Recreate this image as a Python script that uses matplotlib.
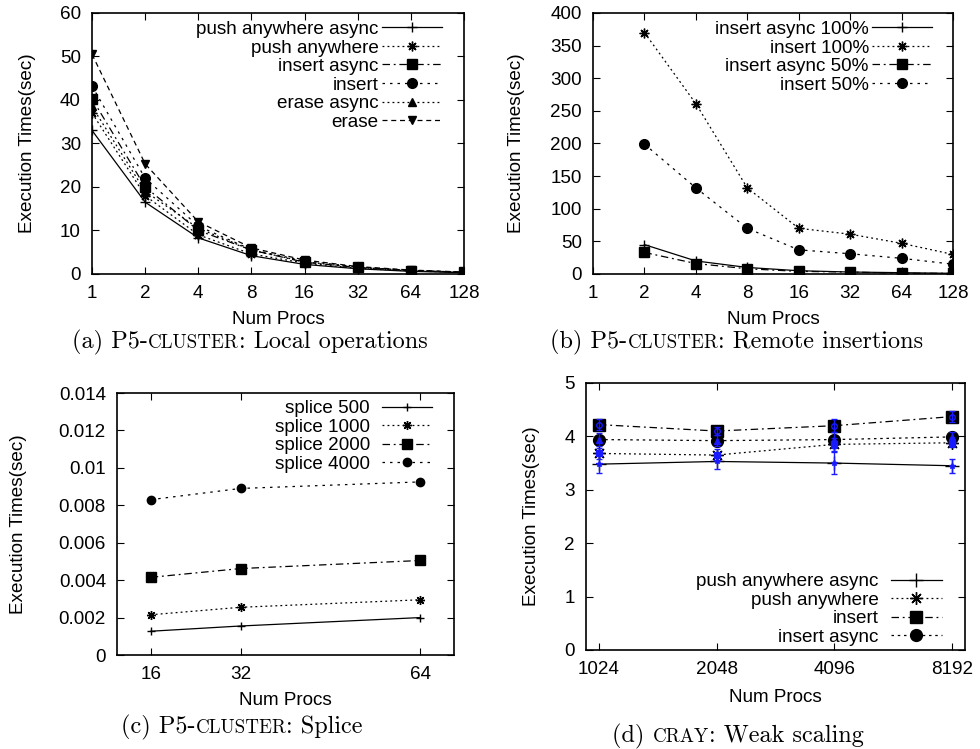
import matplotlib
matplotlib.use("Agg")
import matplotlib.pyplot as plt

plt.rcParams["font.family"] = ["Liberation Sans", "DejaVu Sans"]
plt.rcParams["font.size"] = 13.6

# ---- data -----------------------------------------------------------------
procs_a = [1, 2, 4, 8, 16, 32, 64, 128]
push_anywhere_async_a = [33.0, 16.5, 8.3, 4.2, 2.2, 1.2, 0.6, 0.3]
push_anywhere_a = [37.0, 18.0, 9.0, 4.6, 2.5, 1.3, 0.7, 0.35]
insert_async_a = [40.3, 20.0, 10.0, 5.5, 2.7, 1.5, 0.8, 0.4]
insert_a = [43.2, 22.0, 11.0, 5.6, 3.0, 1.6, 0.8, 0.4]
erase_async_a = [38.5, 19.0, 10.5, 5.5, 2.8, 1.5, 0.8, 0.4]
erase_a = [50.5, 25.3, 12.0, 6.0, 3.2, 1.7, 0.9, 0.45]

procs_b = [2, 4, 8, 16, 32, 64, 128]
insert_async_100 = [45, 20, 10, 5, 3, 2, 1]
insert_100 = [370, 261, 132, 70, 61, 47, 30]
insert_async_50 = [33, 16, 8, 4, 3, 1, 1]
insert_50 = [199, 132, 70, 37, 31, 24, 15]

procs_c = [16, 32, 64]
splice_500 = [0.00127, 0.00155, 0.00200]
splice_1000 = [0.00215, 0.00255, 0.00295]
splice_2000 = [0.00415, 0.00462, 0.00505]
splice_4000 = [0.00830, 0.00890, 0.00925]

procs_d = [1024, 2048, 4096, 8192]
push_anywhere_async_d = [3.48, 3.53, 3.50, 3.45]
push_anywhere_d = [3.68, 3.65, 3.85, 3.88]
insert_d = [4.22, 4.10, 4.20, 4.37]
insert_async_d = [3.94, 3.92, 3.94, 3.99]
# blue overlay (error bars of repeated runs)
err_push_async_d = [0.17, 0.15, 0.20, 0.13]
err_push_d = [0.10, 0.12, 0.12, 0.08]
err_insert_d = [0.10, 0.08, 0.12, 0.10]
err_insert_async_d = [0.12, 0.10, 0.15, 0.10]

# ---- styles ---------------------------------------------------------------
ASTER = (8, 2, 0)
DOT = (0, (1.5, 2.5))
DASHDOT = (0, (6, 3, 1.5, 3))
FINEDOT = (0, (2, 4))
DASH = (0, (4, 3))
FS = 13.6


def style_axes(ax, ylab_x, xlab_y):
    ax.tick_params(direction="in", top=True, right=True, length=5, width=0.8,
                   labelsize=FS, pad=8)
    for s in ax.spines.values():
        s.set_linewidth(1.2)
    ax.set_xlabel("Num Procs", fontsize=FS)
    ax.set_ylabel("Execution Times(sec)", fontsize=FS)
    ax.yaxis.set_label_coords(ylab_x, 0.5)
    ax.xaxis.set_label_coords(0.5, xlab_y)


def legend(ax, anchor, loc="upper right", hl=3.2, pad=0.15):
    ax.legend(loc=loc, bbox_to_anchor=anchor, frameon=False, markerfirst=False,
              handlelength=hl, handletextpad=pad, labelspacing=0.07,
              borderaxespad=0, borderpad=0, fontsize=FS)


def line(ax, x, y, ls, mk, label, ms=7):
    ax.plot(x, y, color="black", linestyle=ls, linewidth=0.9, marker=mk,
            markersize=ms, markeredgewidth=1.0, label=label)


def log2_ticks(ax, ticks):
    ax.set_xscale("log", base=2)
    ax.set_xticks(ticks)
    ax.set_xticklabels([str(p) for p in ticks])
    ax.minorticks_off()


fig = plt.figure(figsize=(9.8, 7.49), dpi=100)

# (a)
ax = fig.add_axes([0.0939, 0.6342, 0.3796, 0.3485])
line(ax, procs_a, push_anywhere_async_a, "-", "+", "push anywhere async")
line(ax, procs_a, push_anywhere_a, DOT, ASTER, "push anywhere")
line(ax, procs_a, insert_async_a, DASHDOT, "s", "insert async")
line(ax, procs_a, insert_a, FINEDOT, "o", "insert")
line(ax, procs_a, erase_async_a, DOT, "^", "erase async", ms=6)
line(ax, procs_a, erase_a, DASH, "v", "erase", ms=6)
log2_ticks(ax, procs_a)
ax.set_xlim(1, 128)
ax.set_ylim(0, 60)
ax.set_yticks(range(0, 61, 10))
style_axes(ax, -0.151, -0.14)
legend(ax, (0.941, 0.970))

# (b)
ax = fig.add_axes([0.6051, 0.6342, 0.3673, 0.3485])
line(ax, procs_b, insert_async_100, "-", "+", "insert async 100%")
line(ax, procs_b, insert_100, DOT, ASTER, "insert 100%")
line(ax, procs_b, insert_async_50, DASHDOT, "s", "insert async 50%")
line(ax, procs_b, insert_50, FINEDOT, "o", "insert 50%")
log2_ticks(ax, procs_a)
ax.set_xlim(1, 128)
ax.set_ylim(0, 400)
ax.set_yticks(range(0, 401, 50))
style_axes(ax, -0.189, -0.14)
legend(ax, (0.942, 0.970))

# (c)
ax = fig.add_axes([0.1194, 0.1255, 0.3439, 0.3498])
line(ax, procs_c, splice_500, "-", "+", "splice 500", ms=6)
line(ax, procs_c, splice_1000, DOT, ASTER, "splice 1000", ms=6.5)
line(ax, procs_c, splice_2000, DASHDOT, "s", "splice 2000", ms=6.5)
line(ax, procs_c, splice_4000, FINEDOT, "o", "splice 4000", ms=6)
ax.set_xlim(10, 70)
ax.set_xticks(procs_c)
ax.set_ylim(0, 0.014)
yt = [0, 0.002, 0.004, 0.006, 0.008, 0.01, 0.012, 0.014]
ax.set_yticks(yt)
ax.set_yticklabels(["0", "0.002", "0.004", "0.006", "0.008", "0.01", "0.012", "0.014"])
style_axes(ax, -0.267, -0.141)
legend(ax, (0.935, 0.973), hl=2.65, pad=0.65)

# (d)
ax = fig.add_axes([0.598, 0.1322, 0.3867, 0.3565])
line(ax, procs_d, push_anywhere_async_d, "-", "+", "push anywhere async", ms=10)
line(ax, procs_d, push_anywhere_d, DOT, ASTER, "push anywhere", ms=9)
line(ax, procs_d, insert_d, DASHDOT, "s", "insert", ms=8.5)
line(ax, procs_d, insert_async_d, (0, (2, 3)), "o", "insert async", ms=8.5)
for y, e, mk in [(push_anywhere_async_d, err_push_async_d, "*"),
                 (push_anywhere_d, err_push_d, "s"),
                 (insert_async_d, err_insert_async_d, "^"),
                 (insert_d, err_insert_d, "o")]:
    ax.errorbar(procs_d, y, yerr=e, fmt=mk, color="#1a1aff", markersize=4,
                markerfacecolor="none" if mk == "o" else "#1a1aff",
                elinewidth=1.0, capsize=2.5, linestyle="none")
log2_ticks(ax, procs_d)
ax.set_xlim(2 ** 9.89, 2 ** 13.11)
ax.set_ylim(0, 5)
ax.set_yticks(range(0, 6))
style_axes(ax, -0.121, -0.146)
legend(ax, (0.939, 0.015), loc="lower right", hl=2.7, pad=0.65)


# ---- captions with small caps ---------------------------------------------
def caption(xc, baseline, pieces, size=17.5):
    texts = []
    for s, scale in pieces:
        t = fig.text(0, 1 - baseline / 749, s, fontsize=size * scale,
                     family="cmr10", ha="left", va="baseline")
        texts.append(t)
    fig.canvas.draw()
    r = fig.canvas.get_renderer()
    widths = [t.get_window_extent(r).width for t in texts]
    x = xc - sum(widths) / 2
    for t, w in zip(texts, widths):
        t.set_x(x / 980)
        x += w


caption(250, 348, [("(a) P5-", 1), ("CLUSTER", 0.78), (": Local operations", 1)])
caption(737, 348, [("(b) P5-", 1), ("CLUSTER", 0.78), (": Remote insertions", 1)])
caption(242, 733, [("(c) P5-", 1), ("CLUSTER", 0.78), (": Splice", 1)])
caption(738, 742, [("(d) ", 1), ("CRAY", 0.78), (": Weak scaling", 1)])

fig.savefig("out.png", dpi=100)
